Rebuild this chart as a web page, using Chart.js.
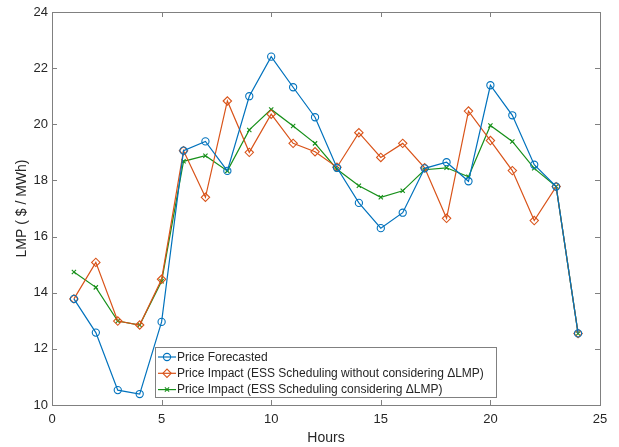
<!DOCTYPE html>
<html>
<head>
<meta charset="utf-8">
<script src="https://cdn.jsdelivr.net/npm/chart.js@4/dist/chart.umd.min.js"></script>
<style>
  html, body { margin: 0; padding: 0; background: #fff; }
  canvas { display: block; }
</style>
</head>
<body>
<canvas id="lmpChart" width="619" height="447"></canvas>
<script>
// hours of the day
const hours = [1, 2, 3, 4, 5, 6, 7, 8, 9, 10, 11, 12, 13, 14, 15, 16, 17, 18, 19, 20, 21, 22, 23, 24];

const forecast = [13.78, 12.58, 10.53, 10.39, 12.96, 19.06, 19.39, 18.34, 21.0, 22.41, 21.32, 20.25,
                  18.45, 17.2, 16.3, 16.85, 18.43, 18.65, 17.97, 21.39, 20.32, 18.56, 17.78, 12.55];
const impactNoDelta = [13.78, 15.08, 12.99, 12.85, 14.48, 19.06, 17.4, 20.83, 19.0, 20.36, 19.32, 19.02,
                       18.47, 19.7, 18.82, 19.32, 18.45, 16.65, 20.47, 19.42, 18.35, 16.57, 17.78, 12.55];
const impactDelta = [14.74, 14.19, 12.99, 12.85, 14.41, 18.68, 18.88, 18.34, 19.8, 20.53, 19.94, 19.32,
                     18.4, 17.81, 17.4, 17.63, 18.38, 18.45, 18.13, 19.96, 19.39, 18.43, 17.78, 12.55];

const xTicks = [0, 5, 10, 15, 20, 25];
const yTicks = [10, 12, 14, 16, 18, 20, 22, 24];

const seriesNames = [
    'Price Forecasted',
    'Price Impact (ESS Scheduling without considering \u0394LMP)',
    'Price Impact (ESS Scheduling considering \u0394LMP)'
];

const axisGray = '#808080';
const textColor = '#262626';

function toPoints(values){
    return hours.map((h, i) => ({x: h, y: values[i]}));
}

function makeSet(label, values, color, style, radius){
    return {
        label: label,
        data: toPoints(values),
        borderColor: color,
        backgroundColor: 'rgba(0,0,0,0)',
        borderWidth: 1.2,
        pointStyle: style,
        pointRadius: radius,
        pointBorderColor: color,
        pointBackgroundColor: 'rgba(0,0,0,0)',
        pointBorderWidth: 1.1,
        tension: 0
    };
}

// box, inward ticks on all four sides, legend inside the axes (MATLAB look)
const matlabFrame = {
    id: 'matlabFrame',
    afterDraw(chart){
        const ctx = chart.ctx;
        const area = chart.chartArea;
        const xs = chart.scales.x;
        const ys = chart.scales.y;
        const tickLen = 5;

        ctx.save();
        ctx.strokeStyle = axisGray;
        ctx.lineWidth = 1;
        ctx.strokeRect(Math.round(area.left) + 0.5, Math.round(area.top) + 0.5,
                       Math.round(area.right - area.left), Math.round(area.bottom - area.top));

        ctx.beginPath();
        xs.ticks.forEach(t => {
            const px = Math.round(xs.getPixelForValue(t.value)) + 0.5;
            ctx.moveTo(px, area.bottom);
            ctx.lineTo(px, area.bottom - tickLen);
            ctx.moveTo(px, area.top);
            ctx.lineTo(px, area.top + tickLen);
        });
        ys.ticks.forEach(t => {
            const py = Math.round(ys.getPixelForValue(t.value)) + 0.5;
            ctx.moveTo(area.left, py);
            ctx.lineTo(area.left + tickLen, py);
            ctx.moveTo(area.right, py);
            ctx.lineTo(area.right - tickLen, py);
        });
        ctx.stroke();

        // legend box
        const boxX = 155.5, boxY = 347.5, boxW = 341, boxH = 50;
        ctx.fillStyle = '#fff';
        ctx.fillRect(boxX, boxY, boxW, boxH);
        ctx.strokeStyle = axisGray;
        ctx.strokeRect(boxX, boxY, boxW, boxH);

        ctx.font = '12px "Liberation Sans", Arial, sans-serif';
        ctx.textBaseline = 'middle';
        ctx.textAlign = 'left';
        chart.data.datasets.forEach((ds, i) => {
            const cy = 357 + i * 16.3;
            ctx.strokeStyle = ds.borderColor;
            ctx.lineWidth = 1.2;
            ctx.beginPath();
            ctx.moveTo(158, cy);
            ctx.lineTo(176, cy);
            ctx.stroke();
            ctx.lineWidth = 1.1;
            ctx.fillStyle = 'rgba(0,0,0,0)';
            Chart.helpers.drawPoint(ctx, {
                pointStyle: ds.pointStyle,
                radius: ds.pointRadius,
                rotation: 0,
                borderWidth: 1.1
            }, 167, cy);
            ctx.fillStyle = textColor;
            ctx.fillText(ds.label, 177, cy + 0.5);
        });
        ctx.restore();
    }
};

const ctx = document.getElementById('lmpChart').getContext('2d');

new Chart(ctx, {
    type: 'line',
    data: {
        datasets: [
            makeSet(seriesNames[0], forecast, '#0072BD', 'circle', 3.6),
            makeSet(seriesNames[1], impactNoDelta, '#D95319', 'rectRot', 4.2),
            makeSet(seriesNames[2], impactDelta, '#17901A', 'crossRot', 3)
        ]
    },
    options: {
        responsive: false,
        animation: false,
        devicePixelRatio: 1,
        layout: {
            padding: {top: 12, right: 19, left: 0, bottom: 0}
        },
        plugins: {
            legend: {display: false},
            tooltip: {enabled: false}
        },
        scales: {
            x: {
                type: 'linear',
                min: xTicks[0],
                max: xTicks[xTicks.length - 1],
                afterBuildTicks: (scale) => { scale.ticks = xTicks.map(v => ({value: v})); },
                afterFit: (scale) => { scale.height = 42; },
                grid: {display: false, drawTicks: false},
                border: {display: false},
                ticks: {
                    padding: 7,
                    color: textColor,
                    font: {family: '"Liberation Sans", Arial, sans-serif', size: 13},
                    maxRotation: 0
                },
                title: {
                    display: true,
                    text: 'Hours',
                    color: textColor,
                    padding: {top: 0, bottom: 0},
                    font: {family: '"Liberation Sans", Arial, sans-serif', size: 14}
                }
            },
            y: {
                type: 'linear',
                min: yTicks[0],
                max: yTicks[yTicks.length - 1],
                afterBuildTicks: (scale) => { scale.ticks = yTicks.map(v => ({value: v})); },
                afterFit: (scale) => { scale.width = 52; },
                grid: {display: false, drawTicks: false},
                border: {display: false},
                ticks: {
                    padding: 4,
                    color: textColor,
                    font: {family: '"Liberation Sans", Arial, sans-serif', size: 13}
                },
                title: {
                    display: true,
                    text: 'LMP ( $ / MWh)',
                    color: textColor,
                    padding: {top: 14, bottom: 0},
                    font: {family: '"Liberation Sans", Arial, sans-serif', size: 14}
                }
            }
        }
    },
    plugins: [matlabFrame]
});
</script>
</body>
</html>
